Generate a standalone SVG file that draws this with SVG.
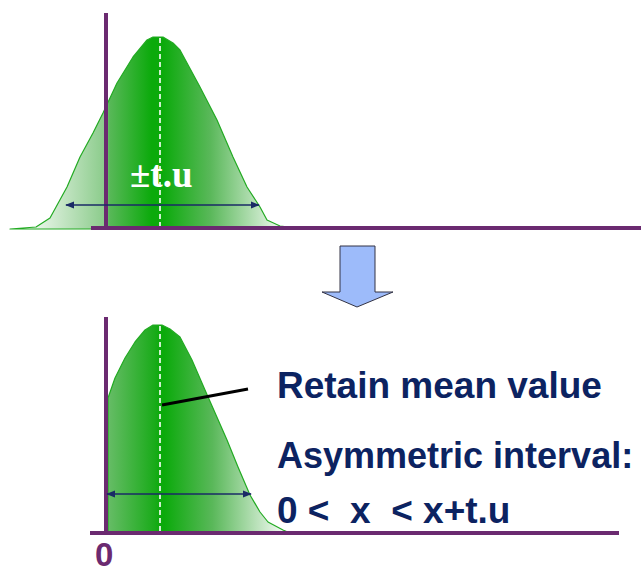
<svg xmlns="http://www.w3.org/2000/svg" width="641" height="574" viewBox="0 0 641 574">
<style>
.axis{stroke:#6b2a70;stroke-width:4;fill:none}
.curve{stroke:#22aa22;stroke-width:1.2;stroke-linejoin:round}
.mean{stroke:#ffffff;stroke-width:1.6;stroke-dasharray:5 3;fill:none}
.dim{stroke:#1a2a66;stroke-width:1.5;fill:none;marker-start:url(#ah);marker-end:url(#ah)}
.lbl{font-family:"Liberation Sans",Arial,sans-serif;font-weight:bold;fill:#0c2361;font-size:37px}
</style>
<defs>
<marker id="ah" viewBox="0 0 10 10" refX="9" refY="5" markerWidth="9" markerHeight="9" markerUnits="userSpaceOnUse" orient="auto-start-reverse">
<path d="M0,1 L10,5 L0,9 Z" fill="#1a2a66"/>
</marker>
<linearGradient id="g1" gradientUnits="userSpaceOnUse" x1="20" y1="0" x2="300" y2="0">
<stop offset="0" stop-color="#ffffff"/>
<stop offset="0.3" stop-color="#8ccc8c"/>
<stop offset="0.32" stop-color="#58b858"/>
<stop offset="0.47" stop-color="#0baa0b"/>
<stop offset="0.51" stop-color="#0baa0b"/>
<stop offset="0.68" stop-color="#5ab85a"/>
<stop offset="0.93" stop-color="#eef8ee"/>
<stop offset="1" stop-color="#ffffff"/>
</linearGradient>
<linearGradient id="g2" gradientUnits="userSpaceOnUse" x1="106" y1="0" x2="300" y2="0">
<stop offset="0" stop-color="#6abd6a"/>
<stop offset="0.25" stop-color="#1aab1a"/>
<stop offset="0.28" stop-color="#0baa0b"/>
<stop offset="0.3" stop-color="#0baa0b"/>
<stop offset="0.55" stop-color="#5ab85a"/>
<stop offset="0.9" stop-color="#eef8ee"/>
<stop offset="1" stop-color="#ffffff"/>
</linearGradient>
</defs>

<g id="top-distribution">
<path class="curve" fill="url(#g1)" d="M10,229 L36,227 L50,218 L67,187 L80,157 L93,133 L103,113 L117,83 L133,57 L147,40 L153,37 L163,37 L173,43 L180,50 L200,87 L217,120 L233,157 L247,187 L260,207 L267,220 L280,226 L307,229 Z"/>
<line class="mean" x1="160" y1="38" x2="160" y2="227"/>
</g>
<g id="top-axes">
<line class="axis" x1="106" y1="13" x2="106" y2="230"/>
<line class="axis" x1="91" y1="228" x2="641" y2="228"/>
</g>
<g id="top-interval">
<line class="dim" x1="66" y1="205" x2="259" y2="205"/>
<text x="130" y="187" font-family="'Liberation Serif','Times New Roman',serif" font-weight="bold" font-size="37" fill="#ffffff">±t.u</text>
</g>

<g id="transform-arrow">
<path d="M340,246 L375,246 L375,292 L393,292 L357,307 L322,292 L340,292 Z" fill="#9dbbfa" stroke="#333344" stroke-width="1"/>
</g>

<g id="bottom-distribution">
<path class="curve" fill="url(#g2)" d="M108,533 L108,398 L115,378 L125,358 L135,342 L145,330 L153,325 L162,325 L170,329 L180,337 L192,360 L205,390 L216,415 L227,440 L238,467 L250,495 L260,512 L268,522 L283,530 L290,533 Z"/>
<line class="mean" x1="160" y1="326" x2="160" y2="531"/>
</g>
<g id="bottom-axes">
<line class="axis" x1="106" y1="317" x2="106" y2="535"/>
<line class="axis" x1="90" y1="533" x2="619" y2="533"/>
<text x="95" y="566" font-family="'Liberation Sans',Arial,sans-serif" font-weight="bold" font-size="33" fill="#6b2a70">0</text>
</g>
<g id="bottom-interval">
<line class="dim" x1="107" y1="494" x2="251" y2="494"/>
</g>

<g id="connectors">
<line x1="162" y1="405" x2="248" y2="389" stroke="#000000" stroke-width="3"/>
</g>

<g id="labels">
<text class="lbl" x="277" y="398">Retain mean value</text>
<text class="lbl" x="277" y="468" style="font-size:36px">Asymmetric interval:</text>
<text class="lbl" x="277" y="523" xml:space="preserve">0 &lt;  x  &lt; x+t.u</text>
</g>
</svg>
